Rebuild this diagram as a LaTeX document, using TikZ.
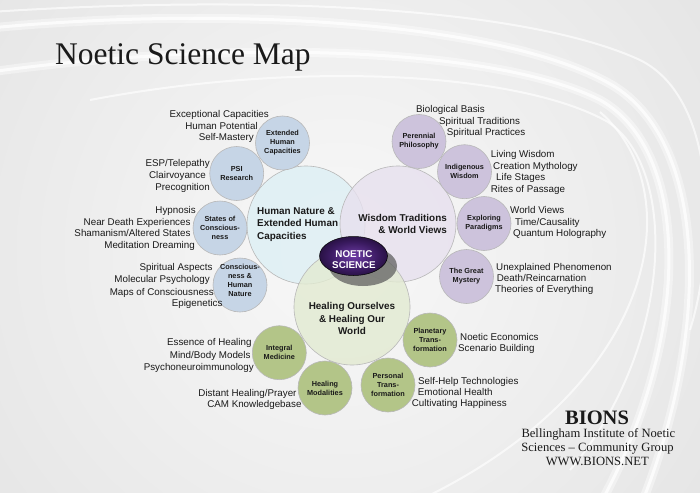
\documentclass[tikz,border=0pt]{standalone}
\usepackage{fontspec}
\setmainfont{Liberation Sans}
\newfontfamily\seriffont{Liberation Serif}
\usetikzlibrary{shapes.geometric}
\definecolor{bgc}{HTML}{DADADA}
\definecolor{bginner}{HTML}{F8F8F8}
\definecolor{bluec}{HTML}{C6D5E6}
\definecolor{purc}{HTML}{CDC3DC}
\definecolor{grnc}{HTML}{B3C588}
\definecolor{bigblue}{HTML}{DDEFF4}
\definecolor{bigpur}{HTML}{E7E0EE}
\definecolor{biggrn}{HTML}{E2EAD1}
\definecolor{noetin}{HTML}{6E3CA6}
\definecolor{noetmid}{HTML}{3A1A60}
\definecolor{noetout}{HTML}{10051C}
\definecolor{txtc}{HTML}{1A1A1A}
\pgfdeclareradialshading{noetshade}{\pgfpoint{0bp}{0bp}}{color(0bp)=(noetin); color(18bp)=(noetmid); color(36bp)=(noetout); color(50bp)=(noetout)}
\begin{document}
\begin{tikzpicture}[x=1pt,y=-1pt,
  lst/.style={inner sep=0pt, text=txtc, font=\fontsize{9.8}{11.6}\selectfont},
  lstl/.style={lst, anchor=base east},
  lstr/.style={lst, anchor=base west},
  smallc/.style={circle, minimum size=54pt, inner sep=0pt, draw=black!28, line width=0.6pt,
     align=center, text=txtc, font=\bfseries\fontsize{7.3}{9}\selectfont},
  bluecirc/.style={smallc, fill=bluec},
  purcirc/.style={smallc, fill=purc},
  grncirc/.style={smallc, fill=grnc},
  stxt/.style={align=center, inner sep=0pt, text=txtc, font=\bfseries\fontsize{7.3}{9}\selectfont},
  bigc/.style={circle, inner sep=0pt, draw=black!28, line width=0.6pt, fill opacity=0.8},
  bigtxt/.style={inner sep=0pt, text=txtc, font=\bfseries\fontsize{9.9}{12.2}\selectfont},
  sertxt/.style={anchor=base, inner sep=0pt, text=txtc, font=\seriffont\fontsize{12.6}{14}\selectfont},
  swoosh/.style={white, line width=9pt, opacity=0.4},
  swooshcore/.style={white, line width=3pt, opacity=0.75},
  swooshthin/.style={white, line width=2pt, opacity=0.65}
]
\useasboundingbox (0,0) rectangle (700,492);
% background
\fill[bgc] (0,0) rectangle (700,492);
\begin{scope}
\clip (0,0) rectangle (700,492);
\shade[inner color=bginner, outer color=bgc] (340,250) circle (720);
\draw[swoosh] (-10,28) .. controls (220,6) and (500,20) .. (612,85) .. controls (705,140) and (712,320) .. (645,495);
\draw[swooshcore] (-10,28) .. controls (220,6) and (500,20) .. (612,85) .. controls (705,140) and (712,320) .. (645,495);
\draw[swoosh] (-10,72) .. controls (220,40) and (490,45) .. (600,100) .. controls (690,150) and (692,330) .. (605,495);
\draw[swooshcore] (-10,72) .. controls (220,40) and (490,45) .. (600,100) .. controls (690,150) and (692,330) .. (605,495);
\draw[swooshthin] (90,100) .. controls (300,60) and (520,72) .. (608,122) .. controls (680,170) and (672,350) .. (570,470);
\draw[swooshthin] (600,112) .. controls (690,190) and (660,380) .. (430,495);
\draw[swooshthin] (-10,12) .. controls (250,-5) and (520,5) .. (640,60) .. controls (720,100) and (715,250) .. (690,330);
\end{scope}
% title
\node[anchor=base west, inner sep=0pt, text=txtc, font=\seriffont\fontsize{31.5}{36}\selectfont] (title) at (55,65) {Noetic Science Map};
% big circles
\node[bigc, fill=bigblue, minimum size=118pt] (human) at (306,225) {};
\node[bigc, fill=bigpur, minimum size=116pt] (wisdom) at (398,224) {};
\node[bigc, fill=biggrn, minimum size=116pt] (healing) at (352,307) {};
\node[bigtxt, align=left, anchor=west] (humant) at (257,224.5) {Human Nature \&\\Extended Human\\Capacities};
\node[bigtxt, align=right, anchor=east] (wisdomt) at (447,224) {Wisdom Traditions\\\& World Views};
\node[bigtxt, align=center] (healingt) at (352,318.5) {Healing Ourselves\\\& Healing Our\\World};
% small blue circles
\node[bluecirc] (ext) at (282.5,143) {Extended\\Human\\Capacities};
\node[bluecirc] (psi) at (236.7,173.5) {PSI\\Research};
\node[bluecirc] (states) at (220,228) {States of\\Conscious-\\ness};
\node[bluecirc] (consc) at (240,285) {};
\node[stxt] (consct) at (240,280) {Conscious-\\ness \&\\Human\\Nature};
% small purple circles
\node[purcirc] (per) at (419,141.5) {Perennial\\Philosophy};
\node[purcirc] (ind) at (464.5,171.7) {Indigenous\\Wisdom};
\node[purcirc] (exp) at (484,223.5) {Exploring\\Paradigms};
\node[purcirc] (mys) at (466.5,276.5) {The Great\\Mystery};
% small green circles
\node[grncirc] (plan) at (430,340) {Planetary\\Trans-\\formation};
\node[grncirc] (pers) at (388,385) {Personal\\Trans-\\formation};
\node[grncirc] (heal) at (325,388) {Healing\\Modalities};
\node[grncirc] (integ) at (279.3,352.7) {Integral\\Medicine};
% noetic centre
\node[ellipse, minimum width=68pt, minimum height=40pt, fill=black!62, fill opacity=0.75] (noetshadow) at (363,266) {};
\node[ellipse, minimum width=68pt, minimum height=39pt, shading=noetshade, draw=black, line width=0.5pt] (noetic) at (353.5,256) {};
\node[align=center, inner sep=0pt, text=white, font=\bfseries\fontsize{9.8}{11.6}\selectfont] (noetict) at (354,259.5) {NOETIC\\SCIENCE};
% left lists
\node[lstl] (a1) at (269,117.5) {Exceptional Capacities};
\node[lstl] (a2) at (258,129.2) {Human Potential};
\node[lstl] (a3) at (254,140.8) {Self-Mastery};
\node[lstl] (b1) at (210,166.8) {ESP/Telepathy};
\node[lstl] (b2) at (206,178.5) {Clairvoyance};
\node[lstl] (b3) at (210,190.2) {Precognition};
\node[lstl] (c1) at (196,213.5) {Hypnosis};
\node[lstl] (c2) at (190.7,225.2) {Near Death Experiences};
\node[lstl] (c3) at (190.7,236.2) {Shamanism/Altered States};
\node[lstl] (c4) at (195,248.5) {Meditation Dreaming};
\node[lstl] (d1) at (212.7,270.8) {Spiritual Aspects};
\node[lstl] (d2) at (210,282.8) {Molecular Psychology};
\node[lstl] (d3) at (214,295.2) {Maps of Consciousness};
\node[lstl] (d4) at (222.7,306.8) {Epigenetics};
\node[lstl] (e1) at (251.7,345.2) {Essence of Healing};
\node[lstl] (e2) at (250.7,358.5) {Mind/Body Models};
\node[lstl] (e3) at (254,370.2) {Psychoneuroimmunology};
\node[lstl] (f1) at (296.7,396.2) {Distant Healing/Prayer};
\node[lstl] (f2) at (301.7,407.5) {CAM Knowledgebase};
% right lists
\node[lstr] (g1) at (416,112.5) {Biological Basis};
\node[lstr] (g2) at (439,124.2) {Spiritual Traditions};
\node[lstr] (g3) at (446.7,135.8) {Spiritual Practices};
\node[lstr] (h1) at (490.7,157.5) {Living Wisdom};
\node[lstr] (h2) at (493,169.2) {Creation Mythology};
\node[lstr] (h3) at (496,180.2) {Life Stages};
\node[lstr] (h4) at (490.7,192.5) {Rites of Passage};
\node[lstr] (i1) at (510,213.5) {World Views};
\node[lstr] (i2) at (515,225.2) {Time/Causality};
\node[lstr] (i3) at (513,236.5) {Quantum Holography};
\node[lstr] (j1) at (496,270.2) {Unexplained Phenomenon};
\node[lstr] (j2) at (496.7,281.5) {Death/Reincarnation};
\node[lstr] (j3) at (495,292.5) {Theories of Everything};
\node[lstr] (k1) at (460,340.2) {Noetic Economics};
\node[lstr] (k2) at (458,351.8) {Scenario Building};
\node[lstr] (l1) at (418,384.2) {Self-Help Technologies};
\node[lstr] (l2) at (417.7,395.8) {Emotional Health};
\node[lstr] (l3) at (411.7,406.8) {Cultivating Happiness};
% BIONS block
\node[anchor=base, inner sep=0pt, text=txtc, font=\seriffont\bfseries\fontsize{20.5}{24}\selectfont] (bions) at (597,424) {BIONS};
\node[sertxt] (bions1) at (598.3,437.5) {Bellingham Institute of Noetic};
\node[sertxt] (bions2) at (597.5,451.5) {Sciences – Community Group};
\node[sertxt] (bions3) at (597.3,465) {WWW.BIONS.NET};
\end{tikzpicture}
\end{document}
